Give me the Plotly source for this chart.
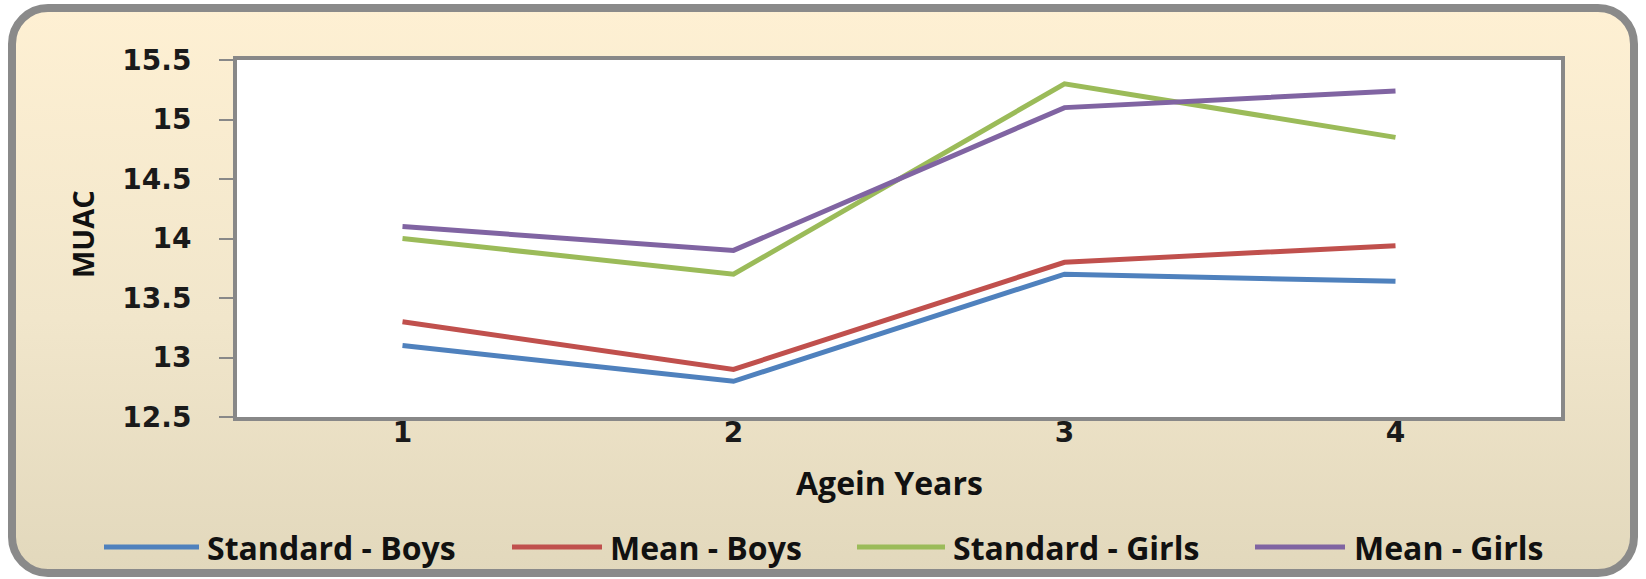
import base64
import plotly.graph_objects as go

# MUAC by age, standard vs. measured mean
ages = [1, 2, 3, 4]
series_names = ["Standard - Boys", "Mean - Boys", "Standard - Girls", "Mean - Girls"]
standard_boys = [13.1, 12.8, 13.7, 13.64]
mean_boys = [13.3, 12.9, 13.8, 13.94]
standard_girls = [14.0, 13.7, 15.3, 14.85]
mean_girls = [14.1, 13.9, 15.1, 15.24]
colors = ["#4F81BD", "#C0504D", "#9BBB59", "#8064A2"]

W, H = 1646, 579
L, R, T, B = 237, 85, 60, 162
PW, PH = W - L - R, H - T - B


def px(x):
    return (x - L) / PW


def py(y):
    return (H - B - y) / PH


fig = go.Figure()
for name, vals, c in zip(series_names, [standard_boys, mean_boys, standard_girls, mean_girls], colors):
    fig.add_trace(go.Scatter(x=ages, y=vals, mode="lines", name=name,
                             line=dict(color=c, width=5), showlegend=False))

# rounded cream panel with vertical gradient
svg = f'''<svg xmlns="http://www.w3.org/2000/svg" width="{W}" height="{H}" viewBox="0 0 {W} {H}">
<defs><linearGradient id="g" x1="0" y1="0" x2="0" y2="1">
<stop offset="0" stop-color="#FEF0D3"/><stop offset="0.55" stop-color="#F1E6CB"/><stop offset="1" stop-color="#E2D8BC"/>
</linearGradient></defs>
<rect x="12" y="8" width="{W - 24}" height="{H - 14}" rx="36" ry="36" fill="url(#g)" stroke="#8A8A8A" stroke-width="8"/>
</svg>'''
src = "data:image/svg+xml;base64," + base64.b64encode(svg.encode()).decode()
fig.add_layout_image(dict(source=src, xref="paper", yref="paper", x=px(0), y=py(0),
                          sizex=W / PW, sizey=H / PH, sizing="stretch",
                          xanchor="left", yanchor="top", layer="below"))
fig.add_shape(type="rect", xref="paper", yref="paper", x0=0, x1=1, y0=0, y1=1,
              fillcolor="white", line=dict(width=0), layer="below")

tick_font = dict(family="DejaVu Sans", size=28, color="#1a1a1a", weight="bold")
label_font = dict(family="Open Sans", size=32, color="#111111", weight="bold")

fig.update_xaxes(range=[0.5, 4.5], tickvals=ages, ticktext=[str(a) for a in ages],
                 showline=True, mirror=True, linecolor="#888888", linewidth=4,
                 showgrid=False, zeroline=False, ticks="", tickfont=tick_font,
                 ticklabelstandoff=-13)
fig.update_yaxes(range=[12.5, 15.5], dtick=0.5, showline=True, mirror=True,
                 linecolor="#888888", linewidth=4, showgrid=False, zeroline=False,
                 ticks="outside", ticklen=14, tickwidth=2, tickcolor="#888888",
                 tickfont=tick_font, ticklabelstandoff=22)

fig.add_annotation(xref="paper", yref="paper", showarrow=False, text="MUAC",
                   x=px(82), y=py(234), textangle=-90, xanchor="center", yanchor="middle",
                   font=dict(label_font, size=29))
fig.add_annotation(xref="paper", yref="paper", showarrow=False, text="Agein Years",
                   x=px(889), y=py(482), xanchor="center", yanchor="middle",
                   font=label_font)

# legend row
leg_y = py(547)
leg_lines = [(104, 199), (512, 602), (857, 945), (1255, 1345)]
leg_text_x = [205, 608, 951, 1352]
for name, c, (x0, x1), tx in zip(series_names, colors, leg_lines, leg_text_x):
    fig.add_shape(type="line", xref="paper", yref="paper", x0=px(x0), x1=px(x1),
                  y0=leg_y, y1=leg_y, line=dict(color=c, width=5))
    fig.add_annotation(xref="paper", yref="paper", showarrow=False, text=name,
                       x=px(tx), y=leg_y, xanchor="left", yanchor="middle",
                       font=label_font)

fig.update_layout(width=W, height=H, margin=dict(l=L, r=R, t=T, b=B),
                  paper_bgcolor="white", plot_bgcolor="white", showlegend=False)
fig.write_html("out.html")
